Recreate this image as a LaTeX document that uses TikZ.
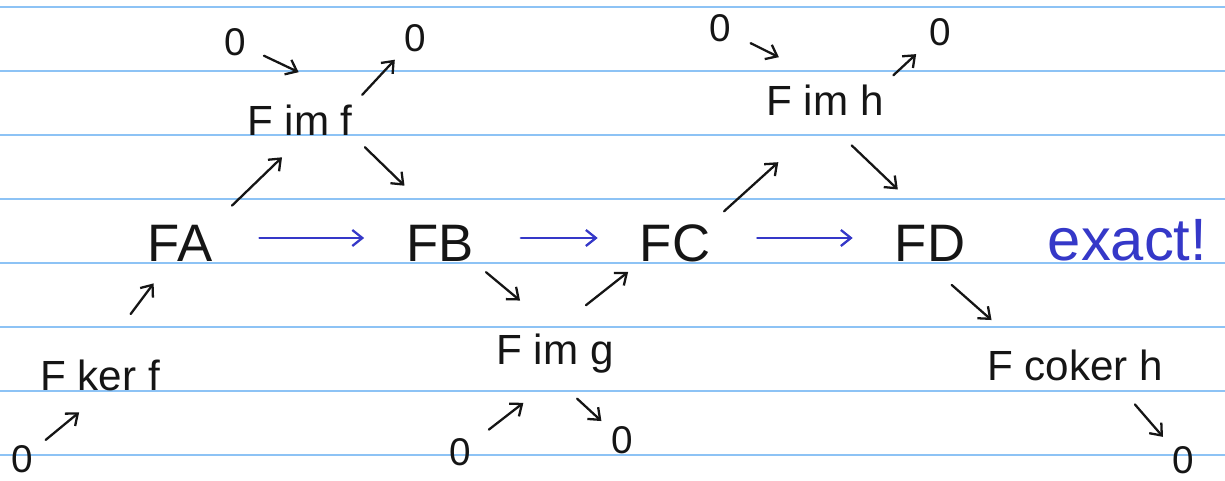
\documentclass[tikz,border=0pt]{standalone}
\usepackage{fontspec}
\setmainfont{Liberation Sans}
\usetikzlibrary{arrows.meta}
\definecolor{cline}{HTML}{8DC3F5}
\definecolor{cink}{HTML}{151515}
\definecolor{cblue}{HTML}{3538C8}
\tikzset{
  every picture/.style={line width=1.3pt},
  lbl/.style={text=cink, inner sep=2pt, font=\fontsize{24}{26}\selectfont},
  big/.style={lbl, font=\fontsize{30}{32}\selectfont},
  zero/.style={lbl, font=\fontsize{22}{24}\selectfont},
  arr/.style={-{Straight Barb[length=2mm, width=3.2mm]}, draw=cink, line cap=round, shorten <=4pt, shorten >=4pt},
  seq/.style={-{Straight Barb[length=2mm, width=3.2mm]}, draw=cblue, line cap=round, shorten <=0.85cm, shorten >=0.75cm},
}

\begin{document}
\begin{tikzpicture}
  \useasboundingbox (0,0) rectangle (24.5,9.62);
  % ruled paper
  \foreach \y in {9.48,8.2,6.92,5.64,4.36,3.08,1.8,0.52}
    \draw[cline, line width=1.2pt] (0,\y) -- (24.5,\y);
  % main row
  \node[big] (FA) at (3.6,4.76) {FA};
  \node[big] (FB) at (8.8,4.76) {FB};
  \node[big] (FC) at (13.5,4.76) {FC};
  \node[big] (FD) at (18.6,4.76) {FD};
  \foreach \a/\b in {FA/FB, FB/FC, FC/FD}
    \draw[seq] ([yshift=1mm]\a.east) -- ([yshift=1mm]\b.west);
  \node[lbl, text=cblue, font=\fontsize{34}{36}\selectfont] (exact) at (22.55,4.82) {exact!};
  % images, kernel, cokernel
  \node[lbl] (imf) at (6.0,7.22) {F im f};
  \node[lbl] (imh) at (16.5,7.62) {F im h};
  \node[lbl] (kerf) at (2.0,2.12) {F ker f};
  \node[lbl] (img) at (11.1,2.54) {F im g};
  \node[lbl] (cokerh) at (21.5,2.32) {F coker h};
  % zeros
  \node[zero] (z1) at (4.7,8.78) {0};
  \node[zero] (z2) at (8.3,8.86) {0};
  \node[zero] (z3) at (14.4,9.06) {0};
  \node[zero] (z4) at (18.8,8.98) {0};
  \node[zero] (z5) at (0.45,0.44) {0};
  \node[zero] (z6) at (9.2,0.58) {0};
  \node[zero] (z7) at (12.44,0.82) {0};
  \node[zero] (z8) at (23.66,0.42) {0};
  % short exact sequences
  \draw[arr, shorten <=0.3cm, shorten >=1.3cm] (z1) -- (imf.north east);
  \draw[arr] (imf.north east) -- (z2);
  \draw[arr, shorten <=0.42cm, shorten >=0.5cm] (FA.north east) -- (imf.south);
  \draw[arr, shorten <=0.21cm, shorten >=0.99cm] (imf.south east) -- (FB.north);
  \draw[arr, shorten <=0.2cm, shorten >=0.54cm] (z5) -- (kerf.south);
  \draw[arr, shorten <=1.02cm, shorten >=0.44cm] (kerf.north) -- (FA.-120);
  \draw[arr, shorten <=0.2cm, shorten >=0.91cm] (FB.south east) -- (img.north);
  \draw[arr, shorten <=0.79cm, shorten >=0.18cm] (img.north) -- (FC.south west);
  \draw[arr, shorten <=0.34cm, shorten >=0.8cm] (z6) -- (img.south);
  \draw[arr, shorten <=0.6cm] (img.south) -- (z7);
  \draw[arr, shorten <=0.25cm, shorten >=1.26cm] (FC.north east) -- (imh.south);
  \draw[arr, shorten <=0.74cm, shorten >=0.89cm] (imh.south) -- (FD.north);
  \draw[arr, shorten <=0.34cm, shorten >=1.03cm] (z3) -- (imh.north);
  \draw[arr, shorten >=0.23cm] (imh.north east) -- (z4);
  \draw[arr, shorten <=0.58cm, shorten >=0.75cm] (FD.south) -- (cokerh.160);
  \draw[arr, shorten <=0.51cm] (cokerh.-25) -- (z8);
\end{tikzpicture}
\end{document}
